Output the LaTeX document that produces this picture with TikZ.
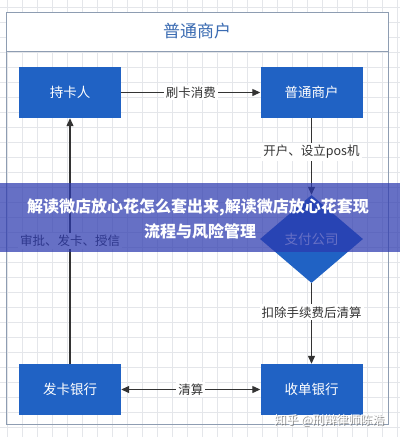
\documentclass[tikz,border=0pt]{standalone}
\usepackage{fontspec}
\setmainfont{Noto Sans CJK SC}
\usetikzlibrary{arrows.meta,shapes.geometric}
\definecolor{boxblue}{HTML}{2062C4}
\definecolor{gridc}{HTML}{E4E6EA}
\definecolor{framec}{HTML}{8E9DB2}
\definecolor{titlec}{HTML}{3A6BB2}
\definecolor{linec}{HTML}{333333}
\definecolor{bannerc}{RGB}{44,57,175}
\tikzset{
  gridline/.style={draw=gridc, line width=0.7pt},
  box/.style={rectangle, fill=boxblue, text=white, minimum width=102pt, minimum height=51pt, inner sep=0pt, font=\fontsize{13.5}{16}\selectfont},
  dia/.style={diamond, fill=boxblue, text=white, minimum width=103pt, minimum height=88pt, aspect=1.17, inner sep=0pt, font=\fontsize{13.5}{16}\selectfont},
  conn/.style={draw=linec, line width=1.2pt, -{Triangle[width=7pt,length=8pt]}},
  conn2/.style={draw=linec, line width=1.2pt, {Triangle[width=7pt,length=8pt]}-{Triangle[width=7pt,length=8pt]}},
  lbl/.style={fill=white, text=linec, inner sep=2pt, font=\fontsize{12.5}{15}\selectfont},
  bannertext/.style={text=white, font=\fontsize{16}{20}\selectfont\bfseries},
  wmark/.style={font=\fontsize{12}{14}\selectfont, anchor=east}
}
\begin{document}
\begin{tikzpicture}[x=1pt,y=-1pt]
\useasboundingbox (0,0) rectangle (400,437);
\fill[white] (0,0) rectangle (400,437);
% grid
\foreach \x in {7,22,...,397} \draw[gridline] (\x,0) -- (\x,437);
\foreach \y in {7,22,...,437} \draw[gridline] (0,\y) -- (400,\y);
% swimlane frame
\fill[white] (6,12) rectangle (388,51);
\draw[framec, line width=1pt] (6,12) rectangle (388,424);
\draw[framec, line width=1pt] (6,51) -- (388,51);
\node[text=titlec, font=\fontsize{17}{20}\selectfont] (title) at (197,31) {普通商户};
% nodes
\node[box] (ch) at (70,92.5) {持卡人};
\node[box] (pt) at (311.5,92.5) {普通商户};
\node[dia] (zf) at (311.5,239) {支付公司};
\node[box] (fk) at (70,389.5) {发卡银行};
\node[box] (sd) at (311.5,389.5) {收单银行};
% connectors
\draw[conn] (ch) -- node[lbl]{刷卡消费} (pt);
\draw[conn] (pt) -- node[lbl, pos=0.44]{开户、设立pos机} (zf);
\draw[conn] (zf) -- node[lbl, pos=0.36]{扣除手续费后清算} (sd);
\draw[conn2] (fk) -- node[lbl]{清算} (sd);
\draw[conn] (fk) -- node[lbl]{审批、发卡、授信} (ch);
% banner overlay
\fill[bannerc, opacity=0.72] (0,183) rectangle (400,252);
\node[bannertext] (b1) at (198,207) {解读微店放心花怎么套出来,解读微店放心花套现};
\node[bannertext] (b2) at (200,231) {流程与风险管理};
% watermark
\node[wmark, text=black!55, opacity=0.8] (wms) at (389,421) {知乎 @刑辩律师陈浩};
\node[wmark, text=white] (wm) at (388,420) {知乎 @刑辩律师陈浩};
\end{tikzpicture}
\end{document}
